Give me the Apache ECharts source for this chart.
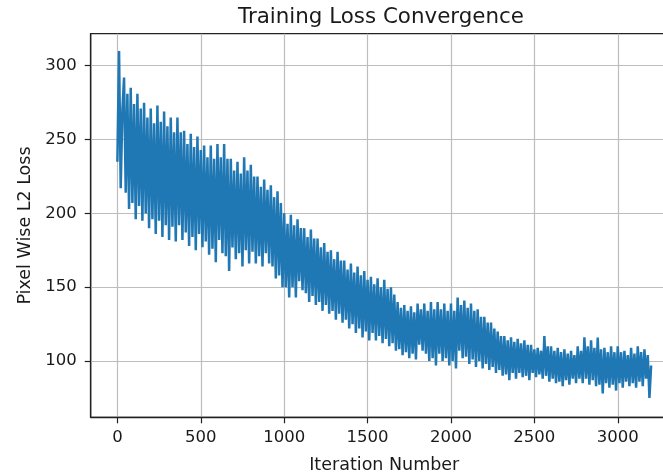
<!DOCTYPE html>
<html>
<head>
<meta charset="utf-8">
<script src="https://cdn.jsdelivr.net/npm/echarts@6/dist/echarts.min.js"></script>
<style>
html,body{margin:0;padding:0;background:#fff;}
#chart{width:663px;height:473px;}
</style>
</head>
<body>
<div id="chart"></div>
<script>
const titleText = 'Training Loss Convergence';
const xAxisName = 'Iteration Number';
const yAxisName = 'Pixel Wise L2 Loss';
const xTickValues = [0, 500, 1000, 1500, 2000, 2500, 3000];
const yTickValues = [100, 150, 200, 250, 300];
const iterationStep = 10;
const lossValues = [
235, 310, 217, 270,
292, 214, 281, 203,
285, 207, 274, 196,
281, 205, 271, 195,
275, 200, 265, 190,
271, 196, 261, 186,
273, 195, 262, 184,
269, 192, 259, 182,
265, 191, 255, 181,
265, 192, 255, 182,
256, 187, 247, 178,
254, 184, 245, 175,
252, 186, 243, 177,
246, 181, 238, 172,
246, 176, 237, 167,
247, 182, 238, 173,
247, 171, 237, 161,
237, 177, 229, 169,
235, 173, 227, 164,
238, 175, 229, 166,
233, 174, 225, 166,
225, 171, 218, 164,
223, 173, 216, 166,
219, 164, 211, 156,
215, 158, 207, 150,
200, 150, 193, 143,
199, 150, 192, 143,
196, 154, 190, 148,
190, 146, 184, 140,
189, 144, 183, 138,
183, 140, 177, 134,
180, 138, 174, 132,
175, 134, 169, 128,
174, 132, 168, 126,
168, 128, 162, 122,
166, 125, 160, 119,
164, 122, 158, 116,
161, 120, 155, 114,
157, 119, 152, 114,
156, 117, 150, 112,
155, 115, 149, 110,
150, 112, 145, 107,
140, 108, 136, 104,
138, 106, 134, 102,
137, 105, 133, 101,
139, 111, 135, 107,
139, 105, 134, 100,
140, 102, 135, 97,
140, 105, 135, 100,
139, 102, 134, 97,
139, 100, 134, 95,
143, 107, 138, 102,
141, 103, 136, 98,
139, 101, 134, 96,
135, 100, 130, 95,
130, 98, 126, 94,
126, 96, 122, 92,
120, 94, 117, 90,
117, 91, 114, 87,
116, 92, 113, 88,
115, 92, 112, 89,
114, 90, 111, 87,
111, 92, 108, 89,
109, 91, 107, 88,
117, 90, 110, 86,
110, 88, 107, 85,
109, 86, 106, 83,
108, 87, 105, 84,
107, 88, 104, 85,
110, 88, 107, 85,
116, 88, 110, 84,
114, 87, 109, 83,
116, 84, 108, 78,
109, 85, 106, 82,
110, 84, 106, 80,
110, 85, 106, 82,
107, 86, 104, 83,
109, 85, 105, 82,
110, 86, 106, 83,
108, 88, 104, 75,
97
];

const seriesData = lossValues.map((v, i) => [i * iterationStep, v]);
const font = 'DejaVu Sans';
const textColor = '#1a1a1a';

const chart = echarts.init(document.getElementById('chart'), null, {renderer: 'canvas'});
chart.setOption({
  animation: false,
  backgroundColor: '#ffffff',
  title: {
    text: titleText,
    left: 238,
    top: 7,
    padding: 0,
    textStyle: {fontFamily: font, fontSize: 21.4, fontWeight: 'normal', color: textColor}
  },
  grid: {
    left: 90.7,
    top: 33.7,
    width: 587.1,
    height: 383.6,
    containLabel: false,
    outerBoundsMode: 'none',
    show: true,
    borderColor: '#222',
    borderWidth: 1.3,
    backgroundColor: 'transparent'
  },
  xAxis: {
    type: 'value',
    min: -160,
    max: 3360,
    name: xAxisName,
    nameLocation: 'middle',
    nameGap: 39,
    nameTextStyle: {fontFamily: font, fontSize: 17.5, color: textColor},
    axisLine: {show: true, onZero: false, lineStyle: {color: '#222', width: 1.3}},
    axisTick: {show: true, length: 6, customValues: xTickValues, lineStyle: {color: '#222', width: 1.2}},
    axisLabel: {customValues: xTickValues, formatter: v => String(v), fontFamily: font, fontSize: 16.5, color: textColor, margin: 12},
    splitLine: {show: true, lineStyle: {color: '#bdbdbd', width: 1.2}}
  },
  yAxis: {
    type: 'value',
    min: 61.9,
    max: 321.7,
    name: yAxisName,
    nameLocation: 'middle',
    nameGap: 55,
    nameRotate: 90,
    nameTextStyle: {fontFamily: font, fontSize: 17.5, color: textColor},
    axisLine: {show: true, onZero: false, lineStyle: {color: '#222', width: 1.3}},
    axisTick: {show: true, length: 6, customValues: yTickValues, lineStyle: {color: '#222', width: 1.2}},
    axisLabel: {customValues: yTickValues, formatter: v => String(v), fontFamily: font, fontSize: 16.5, color: textColor, margin: 14},
    splitLine: {show: true, lineStyle: {color: '#bdbdbd', width: 1.2}}
  },
  series: [{
    type: 'line',
    data: seriesData,
    showSymbol: false,
    symbol: 'none',
    lineStyle: {color: '#1f77b4', width: 2.5},
    clip: true
  }]
});
</script>
</body>
</html>
